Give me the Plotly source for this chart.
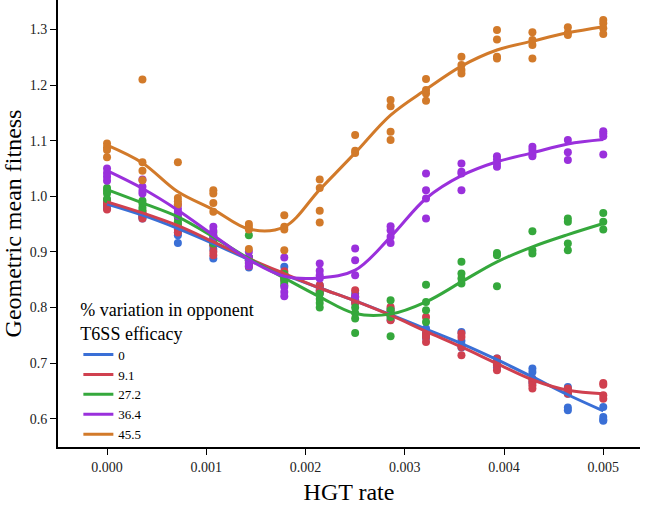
import plotly.graph_objects as go

# HGT rate sampled at 15 levels
hgt_rate = [0.0, 0.000357, 0.000714, 0.001071, 0.001429, 0.001786, 0.002143, 0.0025,
            0.002857, 0.003214, 0.003571, 0.003929, 0.004286, 0.004643, 0.005]

efficacy_labels = ["0", "9.1", "27.2", "36.4", "45.5"]
colors = ["#3a6fd6", "#d0404f", "#35a83c", "#9a30dc", "#d27a2a"]

# replicate runs at each HGT rate (geometric mean fitness)
pts_0 = [[0.990, 0.985, 0.981, 0.978], [0.968, 0.965, 0.963, 0.960], [0.945, 0.935, 0.930, 0.916],
         [0.920, 0.912, 0.905, 0.888], [0.890, 0.885, 0.878, 0.872], [0.873, 0.860, 0.855, 0.850],
         [0.840, 0.835, 0.830, 0.825], [0.825, 0.818, 0.813, 0.808], [0.798, 0.790, 0.785, 0.778],
         [0.762, 0.755, 0.750, 0.745], [0.756, 0.740, 0.733, 0.728], [0.708, 0.703, 0.698, 0.692],
         [0.690, 0.684, 0.672, 0.665], [0.657, 0.645, 0.620, 0.615], [0.621, 0.603, 0.598, 0.596]]
pts_9 = [[0.993, 0.988, 0.984, 0.976], [0.972, 0.969, 0.964, 0.960], [0.950, 0.945, 0.940, 0.935],
         [0.920, 0.912, 0.900, 0.894], [0.890, 0.885, 0.880, 0.874], [0.865, 0.860, 0.855, 0.850],
         [0.840, 0.837, 0.830, 0.826], [0.831, 0.820, 0.813, 0.808], [0.801, 0.795, 0.786, 0.777],
         [0.783, 0.753, 0.747, 0.738], [0.753, 0.747, 0.729, 0.714], [0.708, 0.700, 0.696, 0.687],
         [0.670, 0.666, 0.660, 0.654], [0.654, 0.652, 0.648, 0.645], [0.664, 0.661, 0.642, 0.636]]
pts_27 = [[1.015, 1.010, 1.005, 0.995], [0.992, 0.987, 0.980, 0.975], [0.970, 0.962, 0.955, 0.950],
          [0.935, 0.928, 0.922, 0.915], [0.930, 0.890, 0.885, 0.880], [0.860, 0.852, 0.845, 0.840],
          [0.825, 0.815, 0.808, 0.800], [0.800, 0.790, 0.780, 0.754], [0.813, 0.795, 0.783, 0.748],
          [0.841, 0.810, 0.795, 0.774], [0.882, 0.861, 0.852, 0.843], [0.898, 0.894, 0.838],
          [0.937, 0.903, 0.897], [0.960, 0.954, 0.915, 0.903], [0.970, 0.954, 0.940]]
pts_36 = [[1.050, 1.042, 1.035, 1.028], [1.030, 1.017, 1.010, 1.005], [0.985, 0.978, 0.972, 0.965],
          [0.945, 0.938, 0.930, 0.925], [0.900, 0.890, 0.882, 0.875], [0.890, 0.837, 0.828, 0.820],
          [0.879, 0.866, 0.858, 0.852], [0.906, 0.885, 0.858, 0.819], [0.946, 0.939, 0.927, 0.916],
          [1.041, 1.011, 0.996, 0.960], [1.059, 1.044, 1.041, 1.011], [1.072, 1.066, 1.059, 1.053],
          [1.089, 1.083, 1.076, 1.072], [1.101, 1.079, 1.065], [1.117, 1.113, 1.108, 1.075]]
pts_45 = [[1.095, 1.088, 1.083, 1.070], [1.210, 1.061, 1.046, 1.029], [1.061, 0.997, 0.991, 0.985],
          [1.011, 1.005, 0.988, 0.972], [0.950, 0.945, 0.940, 0.905], [0.966, 0.945, 0.940, 0.903],
          [1.030, 1.015, 0.974, 0.953], [1.110, 1.082, 1.078], [1.173, 1.162, 1.116, 1.101],
          [1.211, 1.191, 1.185, 1.172], [1.251, 1.236, 1.227, 1.221], [1.299, 1.282, 1.251, 1.248],
          [1.295, 1.281, 1.272, 1.248], [1.304, 1.294, 1.290], [1.317, 1.311, 1.302, 1.292]]

# smoothed fits
fit_0 = [0.986, 0.966, 0.942, 0.915, 0.886, 0.859, 0.835, 0.812, 0.787, 0.761, 0.735, 0.706, 0.675, 0.643, 0.614]
fit_9 = [0.990, 0.970, 0.947, 0.918, 0.888, 0.861, 0.835, 0.812, 0.786, 0.757, 0.729, 0.699, 0.670, 0.651, 0.645]
fit_27 = [1.012, 0.988, 0.963, 0.927, 0.888, 0.853, 0.819, 0.789, 0.788, 0.810, 0.846, 0.882, 0.909, 0.931, 0.951]
fit_36 = [1.046, 1.014, 0.975, 0.930, 0.886, 0.856, 0.853, 0.867, 0.927, 0.996, 1.037, 1.062, 1.078, 1.094, 1.102]
fit_45 = [1.092, 1.060, 1.008, 0.976, 0.941, 0.945, 1.012, 1.078, 1.146, 1.192, 1.234, 1.263, 1.279, 1.294, 1.305]

all_pts = [pts_0, pts_9, pts_27, pts_36, pts_45]
all_fits = [fit_0, fit_9, fit_27, fit_36, fit_45]

FONT = "Liberation Serif"

fig = go.Figure()

# points first
for pts, color in zip(all_pts, colors):
    xs, ys = [], []
    for x, reps in zip(hgt_rate, pts):
        for v in reps:
            xs.append(x)
            ys.append(v)
    fig.add_trace(go.Scatter(x=xs, y=ys, mode="markers", showlegend=False,
                             marker=dict(color=color, size=8, line=dict(width=0))))

# smoothed curves on top
for fit, color, label in zip(all_fits, colors, efficacy_labels):
    fig.add_trace(go.Scatter(x=hgt_rate, y=fit, mode="lines", name=label,
                             line=dict(color=color, width=3, shape="spline", smoothing=1.0)))

fig.update_layout(
    width=650, height=505,
    margin=dict(l=58, r=10, t=0, b=58, autoexpand=False),
    paper_bgcolor="white", plot_bgcolor="white",
    font=dict(family=FONT, color="black"),
    legend=dict(
        title=dict(text="% variation in opponent<br>T6SS efficacy", font=dict(size=18, family=FONT)),
        font=dict(size=13, family=FONT),
        x=0.035, y=0.345, xanchor="left", yanchor="top",
        bgcolor="rgba(0,0,0,0)", tracegroupgap=0,
    ),
)

fig.update_xaxes(
    range=[-0.000494, 0.00537], showgrid=False, zeroline=False, automargin=False,
    showline=True, linecolor="black", linewidth=2,
    ticks="outside", ticklen=6, tickcolor="black", tickwidth=1,
    tickvals=[0, 0.001, 0.002, 0.003, 0.004, 0.005], tickformat=".3f",
    tickfont=dict(size=14, color="#222"),
    title=dict(text="HGT rate", font=dict(size=24), standoff=10),
)
fig.update_yaxes(
    range=[0.549, 1.353], showgrid=False, zeroline=False, automargin=False,
    showline=True, linecolor="black", linewidth=2,
    ticks="outside", ticklen=6, tickcolor="black", tickwidth=1,
    tickvals=[0.6, 0.7, 0.8, 0.9, 1.0, 1.1, 1.2, 1.3], tickformat=".1f",
    tickfont=dict(size=14, color="#222"),
    title=dict(text="Geometric mean fitness", font=dict(size=24), standoff=4),
)

# page body has a default 8px margin; drop it so the figure sits at the window corner
fig.write_html("out.html", config={"displayModeBar": False},
               post_script="document.body.style.margin='0';")
